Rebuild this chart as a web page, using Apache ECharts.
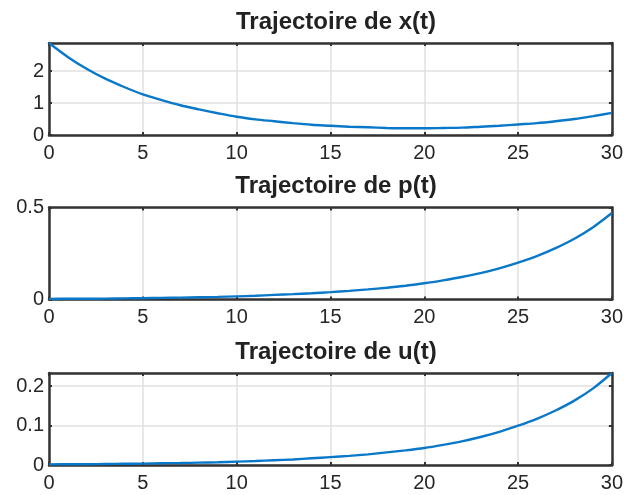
<!DOCTYPE html>
<html>
<head>
<meta charset="utf-8">
<script src="https://cdn.jsdelivr.net/npm/echarts@6/dist/echarts.min.js"></script>
<style>
  html, body { margin: 0; padding: 0; background: #fff; }
  #chart { width: 626px; height: 495px; }
</style>
</head>
<body>
<div id="chart"></div>
<script>
// temps t = 0..30
const tVals = [0,1,2,3,4,5,6,7,8,9,10,11,12,13,14,15,16,17,18,19,20,21,22,23,24,25,26,27,28,29,30];
// valeurs
const xVals = [2.875,2.44,2.07,1.76,1.50,1.27,1.09,0.93,0.80,0.68,0.57,0.49,0.43,0.37,0.32,0.29,
               0.26,0.24,0.22,0.21,0.21,0.22,0.23,0.26,0.29,0.33,0.37,0.43,0.50,0.59,0.69];
const pVals = [0.003,0.004,0.004,0.005,0.006,0.007,0.009,0.010,0.012,0.014,0.017,0.020,0.025,0.029,0.034,0.040,
               0.047,0.055,0.064,0.075,0.088,0.104,0.122,0.143,0.169,0.200,0.236,0.279,0.330,0.393,0.47];
const uVals = [0.0015,0.002,0.002,0.0025,0.003,0.0035,0.0045,0.005,0.006,0.007,0.0085,0.010,0.012,0.014,0.017,0.020,
               0.023,0.027,0.032,0.037,0.043,0.051,0.060,0.071,0.084,0.0995,0.117,0.138,0.163,0.194,0.233];
const titles = ['Trajectoire de x(t)', 'Trajectoire de p(t)', 'Trajectoire de u(t)'];
const xTicks = { min: 0, max: 30, interval: 5 };
const yRanges = [
  { min: 0, max: 2.875, interval: 1 },
  { min: 0, max: 0.5, interval: 0.5 },
  { min: 0, max: 0.233, interval: 0.1 }
];
const gridTops = [43, 207.5, 373];
const gridH = 92;

const frameCol = '#333';
const gridCol = '#e0e0e0';
const txtCol = '#262626';

let grids = [], xAxes = [], yAxes = [], series = [], title = [];
const allVals = [xVals, pVals, uVals];

for (let i = 0; i < 3; i++) {
  grids.push({ left: 49, right: 14, top: gridTops[i], height: gridH });
  title.push({
    text: titles[i], left: 331, top: gridTops[i] - 38, textAlign: 'center',
    textStyle: { fontFamily: 'Liberation Sans', fontSize: 24, fontWeight: 'bold', color: '#222' }
  });
  // axe x bas
  xAxes.push({
    type: 'value', gridIndex: i, position: 'bottom', min: xTicks.min, max: xTicks.max, interval: xTicks.interval,
    axisLine: { show: true, onZero: false, lineStyle: { color: frameCol, width: 2.5 } },
    axisTick: { show: true, inside: true, length: 3, lineStyle: { color: frameCol, width: 2 } },
    axisLabel: { margin: 8, fontFamily: 'Liberation Sans', fontSize: 20, color: txtCol },
    splitLine: { show: true, lineStyle: { color: gridCol, width: 1.5 } }
  });
  // axe x haut (cadre)
  xAxes.push({
    type: 'value', gridIndex: i, position: 'top', min: xTicks.min, max: xTicks.max, interval: xTicks.interval,
    axisLine: { show: true, onZero: false, lineStyle: { color: frameCol, width: 2.5 } },
    axisTick: { show: true, inside: true, length: 3, lineStyle: { color: frameCol, width: 2 } },
    axisLabel: { show: false },
    splitLine: { show: false }
  });
  const yr = yRanges[i];
  yAxes.push({
    type: 'value', gridIndex: i, position: 'left', min: yr.min, max: yr.max, interval: yr.interval,
    axisLine: { show: true, onZero: false, lineStyle: { color: frameCol, width: 2.5 } },
    axisTick: { show: true, inside: true, length: 3, lineStyle: { color: frameCol, width: 2 } },
    axisLabel: { margin: 5, fontFamily: 'Liberation Sans', fontSize: 20, color: txtCol, showMaxLabel: i === 1 },
    splitLine: { show: true, lineStyle: { color: gridCol, width: 1.5 } }
  });
  yAxes.push({
    type: 'value', gridIndex: i, position: 'right', min: yr.min, max: yr.max, interval: yr.interval,
    axisLine: { show: true, onZero: false, lineStyle: { color: frameCol, width: 2.5 } },
    axisTick: { show: true, inside: true, length: 3, lineStyle: { color: frameCol, width: 2 } },
    axisLabel: { show: false },
    splitLine: { show: false }
  });
  series.push({
    type: 'line', xAxisIndex: 2 * i, yAxisIndex: 2 * i, showSymbol: false, smooth: 0.3,
    data: tVals.map((t, k) => [t, allVals[i][k]]),
    lineStyle: { color: '#0a78c8', width: 2.4 }, z: 5
  });
}

const chart = echarts.init(document.getElementById('chart'));
chart.setOption({
  animation: false,
  backgroundColor: '#fff',
  title: title,
  grid: grids,
  xAxis: xAxes,
  yAxis: yAxes,
  series: series
});
</script>
</body>
</html>
